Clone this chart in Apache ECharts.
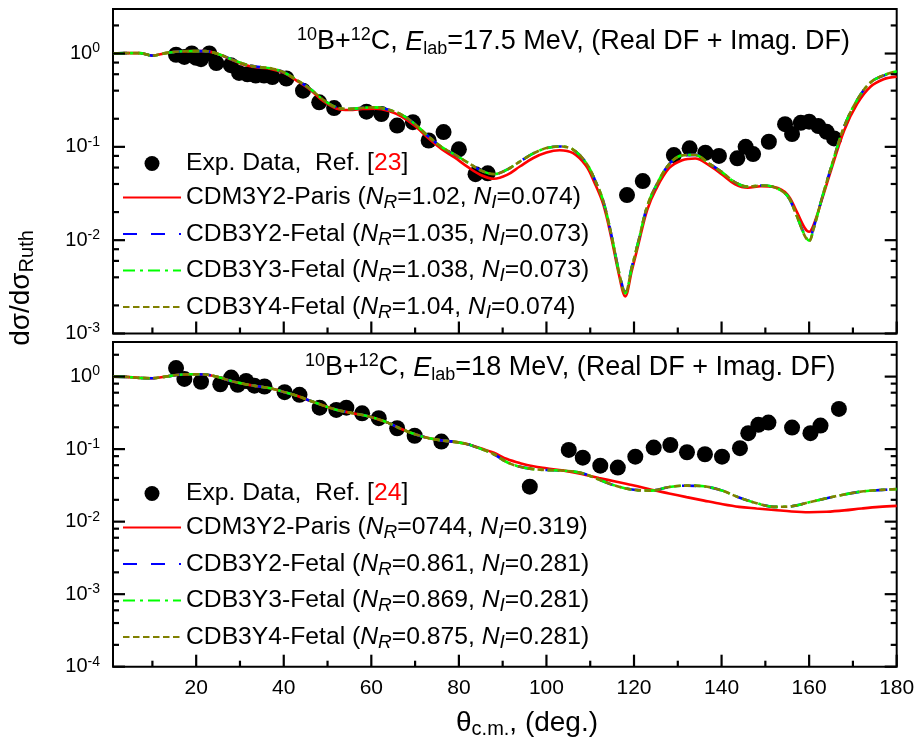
<!DOCTYPE html>
<html>
<head>
<meta charset="utf-8">
<script src="https://cdn.jsdelivr.net/npm/echarts@6/dist/echarts.min.js"></script>
<style>
  html, body { margin: 0; padding: 0; background: #fff; }
  #chart { width: 919px; height: 741px; }
</style>
</head>
<body>
<div id="chart"></div>
<script>
const FONT = '"Liberation Sans", Arial, Helvetica, sans-serif';

// ---- axes -------------------------------------------------------------
const X_MIN = 1, X_MAX = 180;
const xMajorTicks = [20, 40, 60, 80, 100, 120, 140, 160, 180];
const xMinorTicks = [10, 30, 50, 70, 90, 110, 130, 150, 170];
const yRangeA = [1e-3, 3];
const yRangeB = [1e-4, 3];
const yDecadesA = [-3, -2, -1, 0];
const yDecadesB = [-4, -3, -2, -1, 0];
const yMinorMult = [2, 4, 6, 8];

// ---- legend text ------------------------------------------------------
const modelNames = ['CDM3Y2-Paris', 'CDB3Y2-Fetal', 'CDB3Y3-Fetal', 'CDB3Y4-Fetal'];
const nrA = ['1.02', '1.035', '1.038', '1.04'];
const niA = ['0.074', '0.073', '0.073', '0.074'];
const nrB = ['0744', '0.861', '0.869', '0.875'];
const niB = ['0.319', '0.281', '0.281', '0.281'];
const refA = '23';
const refB = '24';

// ---- 10B+12C, Elab = 17.5 MeV ----------------------------------------
const angA = [1, 4, 7, 10, 13, 16, 19, 22, 25, 28, 31, 34, 37, 40, 43, 46, 49, 52, 55, 58,
  61, 64, 67, 70, 73, 76, 79, 82, 85, 88, 91, 94, 97, 100, 103, 106, 109, 111, 113, 115,
  116.5, 118, 119.5, 121, 123, 125, 128, 131, 134, 137, 140, 143, 146, 149, 152, 155, 157,
  159, 160, 161, 163, 165, 168, 171, 174, 177, 180];
const parisA = [1.00, 1.01, 1.01, 0.95, 1.01, 1.05, 1.06, 1.06, 0.99, 0.86, 0.76, 0.71, 0.685,
  0.62, 0.51, 0.41, 0.31, 0.258, 0.248, 0.254, 0.257, 0.242, 0.21, 0.167, 0.124, 0.095, 0.077,
  0.061, 0.050, 0.0455, 0.050, 0.062, 0.076, 0.087, 0.092, 0.086, 0.063, 0.041, 0.024, 0.0097,
  0.0044, 0.0025, 0.0047, 0.009, 0.021, 0.035, 0.059, 0.072, 0.075, 0.064, 0.051, 0.040, 0.0365,
  0.0378, 0.037, 0.031, 0.021, 0.0135, 0.0123, 0.0145, 0.028, 0.056, 0.15, 0.29, 0.44, 0.53, 0.565];
const b3y2A = [1.00, 1.01, 1.01, 0.95, 1.01, 1.05, 1.06, 1.06, 0.99, 0.87, 0.77, 0.72, 0.695,
  0.63, 0.52, 0.42, 0.32, 0.265, 0.255, 0.262, 0.265, 0.25, 0.22, 0.175, 0.13, 0.10, 0.083,
  0.068, 0.056, 0.051, 0.057, 0.070, 0.085, 0.097, 0.101, 0.094, 0.068, 0.045, 0.026, 0.0105,
  0.0048, 0.0028, 0.0052, 0.0097, 0.023, 0.038, 0.065, 0.081, 0.082, 0.067, 0.054, 0.042, 0.0375,
  0.0385, 0.037, 0.030, 0.019, 0.0115, 0.0105, 0.0135, 0.029, 0.060, 0.165, 0.32, 0.49, 0.58, 0.64];
const b3y3A = [1.00, 1.01, 1.01, 0.95, 1.01, 1.05, 1.06, 1.06, 0.99, 0.87, 0.77, 0.72, 0.695,
  0.63, 0.52, 0.42, 0.32, 0.265, 0.255, 0.262, 0.265, 0.25, 0.22, 0.175, 0.13, 0.10, 0.083,
  0.068, 0.056, 0.051, 0.057, 0.070, 0.085, 0.097, 0.101, 0.094, 0.068, 0.045, 0.026, 0.0105,
  0.0047, 0.0027, 0.0051, 0.0097, 0.023, 0.038, 0.065, 0.081, 0.082, 0.067, 0.054, 0.042, 0.0375,
  0.0385, 0.037, 0.030, 0.019, 0.0112, 0.0099, 0.0132, 0.029, 0.060, 0.165, 0.32, 0.49, 0.585, 0.645];
const b3y4A = [1.00, 1.01, 1.01, 0.95, 1.01, 1.05, 1.06, 1.06, 0.99, 0.87, 0.77, 0.72, 0.695,
  0.63, 0.52, 0.42, 0.32, 0.265, 0.255, 0.262, 0.265, 0.25, 0.22, 0.175, 0.13, 0.10, 0.083,
  0.068, 0.056, 0.051, 0.057, 0.070, 0.085, 0.097, 0.101, 0.094, 0.068, 0.045, 0.026, 0.0105,
  0.0047, 0.0027, 0.0051, 0.0097, 0.023, 0.038, 0.065, 0.081, 0.082, 0.067, 0.054, 0.042, 0.0375,
  0.0385, 0.037, 0.030, 0.019, 0.0111, 0.0098, 0.0131, 0.029, 0.060, 0.165, 0.32, 0.49, 0.585, 0.645];
const expAngA = [15.4, 17.3, 19.0, 20.0, 21.1, 23.0, 24.6, 27.9, 29.8, 31.7, 33.6, 35.5, 37.4,
  40.6, 44.4, 48.1, 51.5, 58.9, 62.3, 65.9, 69.5, 73.1, 76.5, 80.0, 83.8, 86.6, 118.4, 122.0,
  129.1, 132.7, 136.3, 139.4, 143.6, 145.5, 147.2, 150.8, 154.5, 156.1, 158.1, 160.0, 162.1,
  164.0, 165.7];
const expValA = [0.97, 0.92, 1.0, 0.9, 0.87, 1.0, 0.79, 0.75, 0.62, 0.60, 0.58, 0.58, 0.56,
  0.54, 0.40, 0.30, 0.26, 0.238, 0.225, 0.169, 0.184, 0.117, 0.144, 0.094, 0.051, 0.052, 0.0304,
  0.043, 0.0817, 0.0964, 0.0865, 0.080, 0.0753, 0.100, 0.0837, 0.1135, 0.175, 0.137, 0.181, 0.186,
  0.167, 0.145, 0.123];

// ---- 10B+12C, Elab = 18 MeV ------------------------------------------
const angB = [1, 4, 7, 10, 13, 16, 19, 22, 25, 28, 31, 34, 37, 40, 43, 46, 49, 52, 55, 58,
  61, 64, 67, 70, 73, 76, 79, 82, 85, 88, 91, 94, 97, 100, 104, 108, 112, 116, 120, 124,
  128, 132, 136, 140, 144, 148, 152, 156, 160, 164, 168, 172, 176, 180];
const parisB = [1.00, 0.99, 0.96, 0.95, 1.00, 1.06, 1.08, 1.07, 0.985, 0.87, 0.79, 0.735, 0.69,
  0.615, 0.545, 0.465, 0.40, 0.35, 0.319, 0.295, 0.265, 0.228, 0.188, 0.16, 0.142, 0.132, 0.126,
  0.117, 0.103, 0.089, 0.073, 0.064, 0.058, 0.0545, 0.0505, 0.0455, 0.040, 0.0355, 0.0315, 0.0275,
  0.0245, 0.0218, 0.0195, 0.0175, 0.016, 0.0152, 0.0145, 0.0138, 0.0135, 0.0137, 0.0143, 0.0152,
  0.016, 0.0165];
const b3y2B = [1.00, 0.99, 0.96, 0.95, 1.00, 1.06, 1.08, 1.07, 0.985, 0.87, 0.79, 0.735, 0.69,
  0.615, 0.545, 0.465, 0.40, 0.35, 0.319, 0.295, 0.265, 0.228, 0.188, 0.16, 0.142, 0.132, 0.126,
  0.117, 0.101, 0.085, 0.066, 0.057, 0.053, 0.0515, 0.0505, 0.047, 0.038, 0.031, 0.0275, 0.0268,
  0.030, 0.0313, 0.0306, 0.027, 0.0215, 0.018, 0.016, 0.0163, 0.0185, 0.021, 0.0237, 0.026,
  0.0272, 0.028];
const b3y3B = [1.00, 0.99, 0.96, 0.95, 1.00, 1.06, 1.08, 1.07, 0.985, 0.87, 0.79, 0.735, 0.69,
  0.615, 0.545, 0.465, 0.40, 0.35, 0.319, 0.295, 0.265, 0.228, 0.188, 0.16, 0.142, 0.132, 0.126,
  0.117, 0.101, 0.085, 0.066, 0.057, 0.053, 0.0515, 0.0505, 0.047, 0.038, 0.031, 0.0275, 0.0268,
  0.030, 0.0314, 0.0307, 0.027, 0.0215, 0.018, 0.016, 0.0163, 0.0185, 0.021, 0.0237, 0.026,
  0.0273, 0.0281];
const b3y4B = [1.00, 0.99, 0.96, 0.95, 1.00, 1.06, 1.08, 1.07, 0.985, 0.87, 0.79, 0.735, 0.69,
  0.615, 0.545, 0.465, 0.40, 0.35, 0.319, 0.295, 0.265, 0.228, 0.188, 0.16, 0.142, 0.132, 0.126,
  0.117, 0.101, 0.085, 0.066, 0.057, 0.053, 0.0515, 0.0505, 0.047, 0.038, 0.031, 0.0275, 0.0268,
  0.030, 0.0314, 0.0307, 0.027, 0.0215, 0.018, 0.016, 0.0163, 0.0185, 0.021, 0.0237, 0.026,
  0.0273, 0.0281];
const expAngB = [15.4, 17.3, 21.1, 25.5, 28.0, 29.5, 31.4, 33.3, 35.6, 40.2, 43.6, 48.2, 52.0,
  54.3, 57.9, 61.7, 65.9, 69.9, 76.0, 96.2, 105.1, 108.3, 112.3, 116.3, 120.3, 124.5, 128.3,
  132.1, 136.2, 140.1, 144.2, 146.1, 148.4, 150.7, 156.1, 160.3, 162.6, 166.8];
const expValB = [1.31, 0.93, 0.85, 0.785, 0.97, 0.77, 0.87, 0.75, 0.73, 0.61, 0.56, 0.373,
  0.347, 0.373, 0.312, 0.267, 0.194, 0.153, 0.127, 0.0304, 0.0975, 0.0763, 0.0592, 0.0556, 0.0788,
  0.105, 0.114, 0.0906, 0.085, 0.0788, 0.103, 0.166, 0.216, 0.232, 0.198, 0.166, 0.211, 0.358];

// ---- styling -----------------------------------------------------------
const curveStyles = [
  { color: '#ff0000', type: 'solid' },
  { color: '#0000ff', type: [14, 14] },
  { color: '#00ff00', type: [12, 5, 3, 5] },
  { color: '#808000', type: [6.5, 3.5] }
];

const legendRich = {
  t:  { fontFamily: FONT, fontSize: 24.7, lineHeight: 30, verticalAlign: 'middle', color: '#000' },
  it: { fontFamily: FONT, fontSize: 24.7, lineHeight: 30, verticalAlign: 'middle', fontStyle: 'italic', color: '#000' },
  sb: { fontFamily: FONT, fontSize: 19, lineHeight: 9, verticalAlign: 'bottom', fontStyle: 'italic', color: '#000' },
  e:  { fontFamily: FONT, fontSize: 24.7, lineHeight: 22, verticalAlign: 'middle', color: '#000' },
  r:  { fontFamily: FONT, fontSize: 24.7, lineHeight: 22, verticalAlign: 'middle', color: '#ff0000' }
};

const tickRich = {
  b: { fontFamily: FONT, fontSize: 20, lineHeight: 24, verticalAlign: 'middle', color: '#000' },
  s: { fontFamily: FONT, fontSize: 14, lineHeight: 9, verticalAlign: 'top', color: '#000' }
};

const gTextRich = {
  m:  { fontFamily: FONT, fontSize: 27, lineHeight: 32, verticalAlign: 'middle', fill: '#000' },
  mi: { fontFamily: FONT, fontSize: 27, lineHeight: 32, verticalAlign: 'middle', fontStyle: 'italic', fill: '#000' },
  sp: { fontFamily: FONT, fontSize: 18, lineHeight: 12, verticalAlign: 'top', fill: '#000' },
  sb: { fontFamily: FONT, fontSize: 18, lineHeight: 9, verticalAlign: 'bottom', fill: '#000' },
  a:  { fontFamily: FONT, fontSize: 28, lineHeight: 32, verticalAlign: 'middle', fill: '#000' },
  as: { fontFamily: FONT, fontSize: 20, lineHeight: 8, verticalAlign: 'bottom', fill: '#000' }
};

const MAJOR_LEN = 12, MINOR_LEN = 6;

// ---- builders -----------------------------------------------------------
const pairs = (xs, ys) => xs.map((x, i) => [x, ys[i]]);
const expName = ref => 'Exp. Data,  Ref. [' + ref + ']';
const curveName = (k, nr, ni) => modelNames[k] + ' (NR=' + nr[k] + ', NI=' + ni[k] + ')';

const legendLabels = {};
function registerLabels(ref, nr, ni) {
  legendLabels[expName(ref)] = '{e|Exp. Data,  Ref. [}{r|' + ref + '}{e|]}';
  modelNames.forEach((m, k) => {
    legendLabels[curveName(k, nr, ni)] =
      '{t|' + m + ' (}{it|N}{sb|R}{t|=' + nr[k] + ', }{it|N}{sb|I}{t|=' + ni[k] + ')}';
  });
}
registerLabels(refA, nrA, niA);
registerLabels(refB, nrB, niB);

function xAxisFor(gridIndex, showLabels) {
  return {
    type: 'value', gridIndex, min: X_MIN, max: X_MAX, position: 'bottom',
    axisLine: { show: false, onZero: false }, axisTick: { show: false }, splitLine: { show: false },
    axisLabel: { show: showLabels, customValues: xMajorTicks, margin: 11, color: '#000', fontFamily: FONT, fontSize: 21 }
  };
}

// a log axis that scales the data, and a log10-space axis carrying the 10^n labels
function yAxesFor(gridIndex, range, decades) {
  return [
    { type: 'log', logBase: 10, gridIndex, min: range[0], max: range[1], show: false,
      axisLine: { onZero: false } },
    { type: 'value', gridIndex, min: Math.log10(range[0]), max: Math.log10(range[1]), position: 'left',
      axisLine: { show: false, onZero: false }, axisTick: { show: false }, splitLine: { show: false },
      axisLabel: { customValues: decades, margin: 13,
        formatter: v => '{b|10}{s|' + Math.round(v) + '}', rich: tickRich } }
  ];
}

function panelSeries(xi, yi, ang, curves, expAng, expVal, ref, nr, ni) {
  const out = [{
    type: 'scatter', name: expName(ref), xAxisIndex: xi, yAxisIndex: yi,
    data: pairs(expAng, expVal), symbol: 'circle', symbolSize: 16,
    itemStyle: { color: '#000', opacity: 1 }, z: 2
  }];
  curves.forEach((vals, k) => out.push({
    type: 'line', name: curveName(k, nr, ni), xAxisIndex: xi, yAxisIndex: yi,
    data: pairs(ang, vals), symbol: 'none', showSymbol: false, smooth: 0.35,
    lineStyle: { color: curveStyles[k].color, type: curveStyles[k].type, width: 2.6 },
    itemStyle: { color: curveStyles[k].color }, z: 3 + k
  }));
  return out;
}

function legendFor(top, ref, nr, ni) {
  return {
    orient: 'vertical', left: 122, top, padding: 0, itemGap: 9,
    itemWidth: 58, itemHeight: 15, selectedMode: false,
    data: [{ name: expName(ref) }].concat(modelNames.map((m, k) => ({
      name: curveName(k, nr, ni),
      itemStyle: { opacity: 0 }          // line-only key, no marker
    }))),
    formatter: name => legendLabels[name],
    textStyle: { fontFamily: FONT, fontSize: 24.7, color: '#000', rich: legendRich }
  };
}

const gridStyle = { show: true, borderColor: '#000', borderWidth: 2, backgroundColor: 'transparent' };

const chart = echarts.init(document.getElementById('chart'), null, { renderer: 'canvas' });
chart.setOption({
  animation: false,
  backgroundColor: '#fff',
  grid: [
    Object.assign({ left: 113, right: 22.3, top: 9, height: 324.5 }, gridStyle),
    Object.assign({ left: 113, right: 22.3, top: 342, bottom: 74.3 }, gridStyle)
  ],
  xAxis: [xAxisFor(0, false), xAxisFor(1, true)],
  yAxis: yAxesFor(0, yRangeA, yDecadesA).concat(yAxesFor(1, yRangeB, yDecadesB)),
  legend: [legendFor(151, refA, nrA, niA), legendFor(481, refB, nrB, niB)],
  series: panelSeries(0, 0, angA, [parisA, b3y2A, b3y3A, b3y4A], expAngA, expValA, refA, nrA, niA)
    .concat(panelSeries(1, 2, angB, [parisB, b3y2B, b3y3B, b3y4B], expAngB, expValB, refB, nrB, niB))
});

// Inward tick marks on the bottom, left and right frame edges, placed through the axis scales.
function tickMarks(xi, yi, range, decades) {
  const finder = { xAxisIndex: xi, yAxisIndex: yi };
  const px = (x, y) => chart.convertToPixel(finder, [x, y]);
  const seg = (a, b) => ({
    type: 'line', silent: true, z: 100,
    shape: { x1: a[0], y1: a[1], x2: b[0], y2: b[1] },
    style: { stroke: '#000', lineWidth: 2.2 }
  });
  const out = [];
  xMajorTicks.forEach(v => { const p = px(v, range[0]); out.push(seg(p, [p[0], p[1] - MAJOR_LEN])); });
  xMinorTicks.forEach(v => { const p = px(v, range[0]); out.push(seg(p, [p[0], p[1] - MINOR_LEN])); });
  const yTick = (v, len) => {
    const l = px(X_MIN, v), r = px(X_MAX, v);
    out.push(seg(l, [l[0] + len, l[1]]));
    out.push(seg(r, [r[0] - len, r[1]]));
  };
  decades.forEach(d => {
    yTick(Math.pow(10, d), MAJOR_LEN);
    yMinorMult.forEach(m => { const v = m * Math.pow(10, d); if (v < range[1]) yTick(v, MINOR_LEN); });
  });
  return out;
}

const textElements = [
  { type: 'text', x: 297, y: 42, silent: true, style: {
      text: '{sp|10}{m|B+}{sp|12}{m|C, }{mi|E}{sb|lab}{m|=17.5 MeV, (Real DF + Imag. DF)}',
      rich: gTextRich, align: 'left', verticalAlign: 'middle' } },
  { type: 'text', x: 305, y: 368, silent: true, style: {
      text: '{sp|10}{m|B+}{sp|12}{m|C, }{mi|E}{sb|lab}{m|=18 MeV, (Real DF + Imag. DF)}',
      rich: gTextRich, align: 'left', verticalAlign: 'middle' } },
  { type: 'text', x: 456, y: 723, silent: true, style: {
      text: '{a|θ}{as|c.m.}{a|, (deg.)}',
      rich: gTextRich, align: 'left', verticalAlign: 'middle' } },
  { type: 'text', x: 21, y: 288, rotation: Math.PI / 2, silent: true, style: {
      text: '{a|dσ/dσ}{as|Ruth}',
      rich: gTextRich, align: 'center', verticalAlign: 'middle' } }
];

chart.setOption({
  graphic: tickMarks(0, 0, yRangeA, yDecadesA)
    .concat(tickMarks(1, 2, yRangeB, yDecadesB), textElements)
});
</script>
</body>
</html>
